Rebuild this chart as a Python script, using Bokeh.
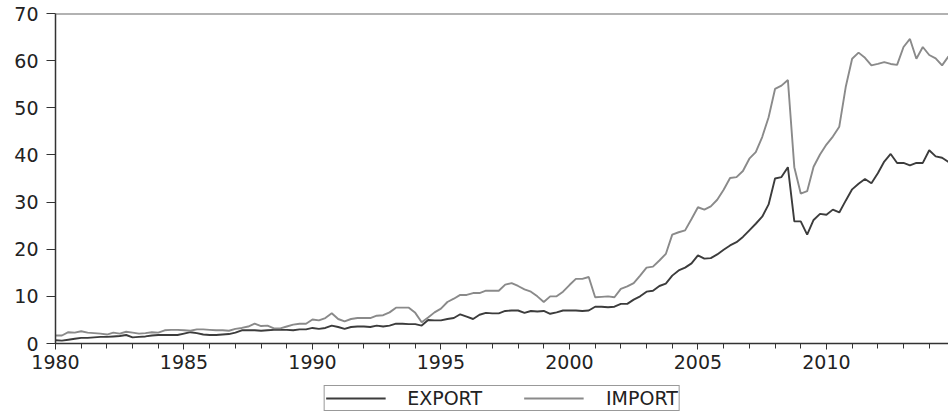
from bokeh.plotting import figure
from bokeh.layouts import column
from bokeh.models import FixedTicker, Span, Legend, LegendItem, Range1d, ColumnDataSource
from bokeh.embed import file_html
from bokeh.resources import INLINE

# Quarterly data, 1980Q1 .. 2014Q4
start_year = 1980
export = [
    0.7, 0.6, 0.8, 1.0, 1.2, 1.2, 1.3, 1.4, 1.4, 1.5, 1.6, 1.8, 1.3, 1.4, 1.5, 1.7,
    1.8, 1.8, 1.8, 1.8, 2.1, 2.4, 2.2, 1.9, 1.8, 1.8, 1.9, 2.0, 2.3, 2.8, 2.8, 2.8,
    2.7, 2.8, 2.9, 2.9, 2.9, 2.8, 3.0, 3.0, 3.3, 3.1, 3.3, 3.8, 3.5, 3.1, 3.5, 3.6,
    3.6, 3.5, 3.8, 3.6, 3.8, 4.2, 4.2, 4.1, 4.1, 3.8, 5.0, 4.9, 4.9, 5.2, 5.4, 6.2,
    5.7, 5.2, 6.1, 6.5, 6.4, 6.4, 6.9, 7.0, 7.0, 6.5, 6.9, 6.8, 6.9, 6.3, 6.6, 7.0,
    7.0, 7.0, 6.9, 7.0, 7.8, 7.8, 7.7, 7.8, 8.4, 8.4, 9.3, 10.0, 11.0, 11.2, 12.2, 12.7,
    14.4, 15.5, 16.1, 17.0, 18.7, 18.0, 18.1, 18.9, 19.9, 20.8, 21.5, 22.6, 24.0, 25.4, 26.9, 29.5,
    35.0, 35.3, 37.4, 25.9, 25.9, 23.1, 26.2, 27.5, 27.3, 28.4, 27.8, 30.3, 32.7, 33.9, 34.9, 34.0,
    36.1, 38.6, 40.2, 38.3, 38.3, 37.8, 38.3, 38.3, 41.0, 39.7, 39.4, 38.5,
]
imports = [
    1.7, 1.7, 2.4, 2.3, 2.6, 2.3, 2.2, 2.1, 1.9, 2.3, 2.1, 2.5, 2.3, 2.1, 2.2, 2.4,
    2.3, 2.8, 2.9, 2.9, 2.8, 2.7, 3.0, 3.0, 2.9, 2.8, 2.8, 2.7, 3.1, 3.3, 3.6, 4.2,
    3.7, 3.8, 3.2, 3.2, 3.6, 4.0, 4.2, 4.2, 5.1, 4.9, 5.4, 6.4, 5.2, 4.7, 5.2, 5.4,
    5.4, 5.4, 5.9, 6.0, 6.6, 7.6, 7.6, 7.6, 6.5, 4.5, 5.5, 6.6, 7.4, 8.8, 9.5, 10.3,
    10.3, 10.7, 10.7, 11.2, 11.2, 11.2, 12.5, 12.8, 12.2, 11.5, 11.0, 10.0, 8.8, 10.0, 10.0, 11.0,
    12.4, 13.7, 13.7, 14.1, 9.8, 9.9, 10.0, 9.8, 11.6, 12.1, 12.8, 14.4, 16.1, 16.3, 17.6, 19.0,
    23.1, 23.6, 24.0, 26.4, 28.9, 28.4, 29.1, 30.5, 32.6, 35.1, 35.3, 36.6, 39.2, 40.6, 43.8, 48.0,
    54.0, 54.7, 55.9, 37.4, 31.8, 32.3, 37.5, 40.1, 42.2, 43.9, 46.0, 54.4, 60.4, 61.7, 60.6, 59.0,
    59.3, 59.7, 59.3, 59.1, 62.9, 64.6, 60.4, 62.9, 61.2, 60.5, 59.0, 60.9,
]
x_major_ticks = [1980, 1985, 1990, 1995, 2000, 2005, 2010]
x_minor_ticks = list(range(1980, 2015))
y_ticks = [0, 10, 20, 30, 40, 50, 60, 70]
series_labels = ["EXPORT", "IMPORT"]

t = [start_year + i / 4 for i in range(len(export))]
src = ColumnDataSource(data=dict(t=t, export=export, imports=imports))

FONT = "DejaVu Sans"
AX = "#333333"
C_EXP = "#3c3c3c"
C_IMP = "#8a8a8a"

p = figure(width=948, height=378, output_backend="svg", toolbar_location=None,
           x_range=Range1d(1980, 2014.75), y_range=Range1d(0, 70),
           min_border_left=55, min_border_right=0, min_border_top=13, min_border_bottom=35)
p.xgrid.visible = False
p.ygrid.visible = False
p.outline_line_color = None

p.line("t", "export", source=src, line_color=C_EXP, line_width=1.9)
p.line("t", "imports", source=src, line_color=C_IMP, line_width=1.9)

p.add_layout(Span(location=70, dimension="width", line_color="#666666", line_width=2))

xa = p.xaxis[0]
xa.ticker = FixedTicker(ticks=x_major_ticks, minor_ticks=x_minor_ticks)
xa.axis_line_color = AX
xa.axis_line_width = 1.5
xa.major_tick_line_color = AX
xa.minor_tick_line_color = AX
xa.major_tick_in = 0
xa.major_tick_out = 6
xa.minor_tick_in = 0
xa.minor_tick_out = 5
xa.major_label_standoff = 5
xa.major_label_text_font = FONT
xa.major_label_text_font_size = "19px"
xa.major_label_text_color = "#222222"

ya = p.yaxis[0]
ya.ticker = FixedTicker(ticks=y_ticks)
ya.axis_line_color = AX
ya.axis_line_width = 1.5
ya.major_tick_line_color = AX
ya.minor_tick_line_color = None
ya.major_tick_in = 0
ya.major_tick_out = 9
ya.major_label_standoff = 8
ya.major_label_text_font = FONT
ya.major_label_text_font_size = "19px"
ya.major_label_text_color = "#222222"

# Legend strip below the chart (series drawn off-range so only the legend shows)
pl = figure(width=948, height=40, output_backend="svg", toolbar_location=None,
            x_range=Range1d(0, 1), y_range=Range1d(0, 1),
            x_axis_location=None, y_axis_location=None,
            min_border_left=55, min_border_right=0, min_border_top=7, min_border_bottom=0)
pl.grid.visible = False
pl.outline_line_color = None
d1 = pl.line("t", "export", source=src, line_color=C_EXP, line_width=1.9)
d2 = pl.line("t", "imports", source=src, line_color=C_IMP, line_width=1.9)

legend = Legend(items=[LegendItem(label=series_labels[0], renderers=[d1]),
                       LegendItem(label=series_labels[1], renderers=[d2])],
                orientation="horizontal", location="top_center")
legend.border_line_color = "#333333"
legend.border_line_width = 1
legend.label_text_font = FONT
legend.label_text_font_size = "19px"
legend.label_text_color = "#222222"
legend.glyph_width = 60
legend.glyph_height = 18
legend.label_height = 18
legend.label_standoff = 22
legend.spacing = 42
legend.padding = 1
legend.margin = 0
pl.add_layout(legend, "center")

open("out.html", "w").write(file_html(column(p, pl, spacing=0), INLINE))
